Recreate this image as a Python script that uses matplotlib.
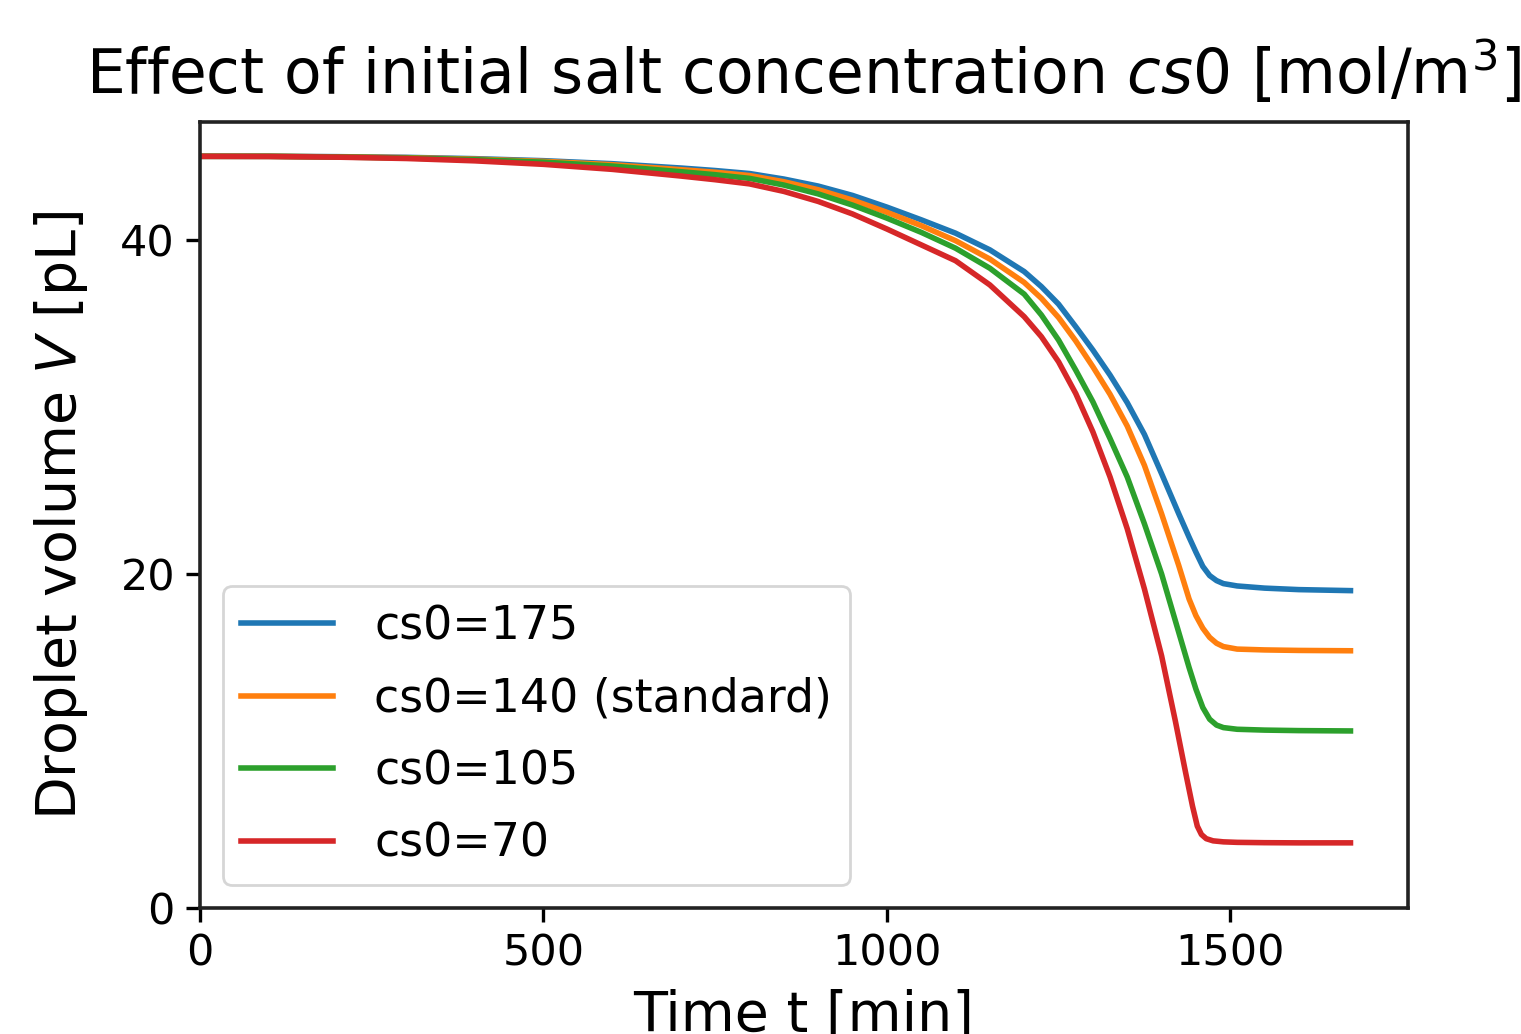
import matplotlib
matplotlib.use("Agg")
import matplotlib.pyplot as plt

# ---- data ----
t_blue = [0, 100, 200, 300, 400, 500, 600, 700, 750, 800, 850, 900, 950, 1000, 1050, 1100,
          1150, 1200, 1225, 1250, 1275, 1300, 1325, 1350, 1375, 1400, 1425, 1440, 1450,
          1460, 1470, 1480, 1490, 1510, 1550, 1600, 1675]
v_blue = [45.0, 45.0, 44.98, 44.94, 44.86, 44.74, 44.56, 44.3, 44.15, 43.97, 43.64, 43.22,
          42.66, 41.96, 41.2, 40.4, 39.4, 38.1, 37.2, 36.15, 34.8, 33.4, 31.9, 30.25, 28.35,
          26.0, 23.6, 22.2, 21.3, 20.45, 19.9, 19.6, 19.42, 19.28, 19.15, 19.06, 19.0]

t_orange = [0, 100, 200, 300, 400, 500, 600, 700, 750, 800, 850, 900, 950, 1000, 1050, 1100,
            1150, 1200, 1225, 1250, 1275, 1300, 1325, 1350, 1375, 1400, 1425, 1440, 1450,
            1460, 1470, 1480, 1490, 1510, 1550, 1600, 1675]
v_orange = [45.0, 45.0, 44.97, 44.92, 44.83, 44.7, 44.5, 44.2, 44.05, 43.85, 43.48, 43.0,
            42.38, 41.65, 40.85, 39.95, 38.85, 37.45, 36.5, 35.35, 33.95, 32.4, 30.75, 28.85,
            26.5, 23.6, 20.5, 18.5, 17.5, 16.75, 16.2, 15.85, 15.65, 15.5, 15.45, 15.42, 15.4]

t_green = [0, 100, 200, 300, 400, 500, 600, 700, 750, 800, 850, 900, 950, 1000, 1050, 1100,
           1150, 1200, 1225, 1250, 1275, 1300, 1325, 1350, 1375, 1400, 1425, 1440, 1450,
           1460, 1470, 1480, 1490, 1510, 1550, 1600, 1675]
v_green = [45.0, 45.0, 44.96, 44.9, 44.8, 44.65, 44.42, 44.08, 43.9, 43.68, 43.28, 42.75,
           42.08, 41.3, 40.45, 39.5, 38.3, 36.75, 35.5, 34.0, 32.2, 30.3, 28.1, 25.8, 23.0,
           20.0, 16.5, 14.4, 13.1, 12.0, 11.3, 10.95, 10.8, 10.7, 10.65, 10.62, 10.6]

t_red = [0, 100, 200, 300, 400, 500, 600, 700, 750, 800, 850, 900, 950, 1000, 1050, 1100,
         1150, 1200, 1225, 1250, 1275, 1300, 1325, 1350, 1375, 1400, 1420, 1435, 1445,
         1452, 1458, 1465, 1475, 1490, 1510, 1550, 1600, 1675]
v_red = [45.0, 44.99, 44.95, 44.87, 44.73, 44.52, 44.22, 43.82, 43.6, 43.35, 42.9, 42.3,
         41.55, 40.65, 39.7, 38.75, 37.3, 35.4, 34.2, 32.7, 30.8, 28.5, 25.8, 22.7, 19.1,
         15.1, 11.2, 8.1, 6.1, 4.9, 4.4, 4.15, 4.02, 3.96, 3.93, 3.91, 3.9, 3.9]

labels = ["cs0=175", "cs0=140 (standard)", "cs0=105", "cs0=70"]
colors = ["#1f77b4", "#ff7f0e", "#2ca02c", "#d62728"]

title = r"Effect of initial salt concentration $cs0$ [mol/m$^3$]"
xlabel = "Time t [min]"
ylabel = r"Droplet volume $V$ [pL]"

# ---- figure ----
fig = plt.figure(figsize=(15.21, 10.34), dpi=100)
ax = fig.add_axes([200/1521, 1 - 908/1034, (1408-200)/1521, (908-122)/1034])

series = [(t_blue, v_blue), (t_orange, v_orange), (t_green, v_green), (t_red, v_red)]
for (t, v), lab, c in zip(series, labels, colors):
    ax.plot(t, v, color=c, lw=4.0, label=lab, solid_joinstyle="round")

ax.set_xlim(left=0)
ax.set_ylim(bottom=0)
ax.set_xticks([0, 500, 1000, 1500])
ax.set_yticks([0, 20, 40])
ax.tick_params(labelsize=31, length=10, width=2.4, pad=8)
for s in ax.spines.values():
    s.set_linewidth(2.6)
    s.set_color("#222222")

ax.set_title(title, fontsize=44.3, pad=20)
ax.set_xlabel(xlabel, fontsize=40, labelpad=10)
ax.set_ylabel(ylabel, fontsize=40, labelpad=22)

leg = ax.legend(loc="lower left", fontsize=33, handlelength=2.0, handletextpad=0.9,
                labelspacing=0.6, borderaxespad=0.5, framealpha=0.8, fancybox=True)
leg.get_frame().set_linewidth(2.0)
for line in leg.get_lines():
    line.set_linewidth(4.0)

fig.savefig("out.png", dpi=100)
